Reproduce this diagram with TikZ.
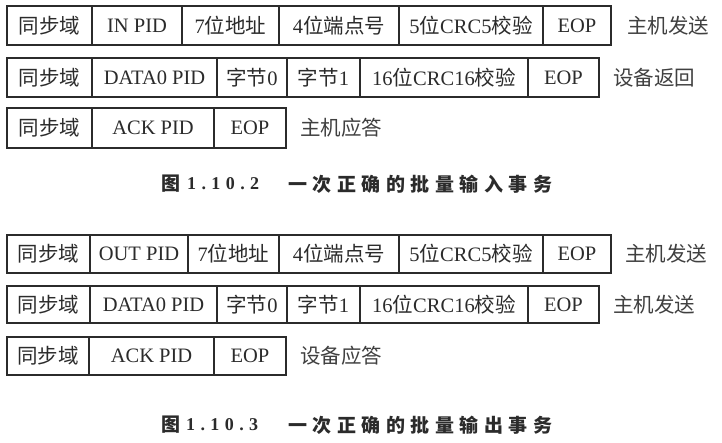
\documentclass[tikz,border=0pt]{standalone}
\usepackage{fontspec}
\setmainfont{Liberation Serif}
\newfontfamily\cjk{Noto Sans CJK SC}
\newcommand\zh[1]{{\cjk #1}}
\definecolor{ink}{HTML}{2B2B2B}
\tikzset{
  cell/.style={draw=ink, line width=1.3pt, inner sep=0pt, outer sep=0pt,
    anchor=north west, text=ink, font=\fontsize{20.5}{24}\selectfont},
  tag/.style={anchor=west, inner sep=0pt, text=ink!90,
    font=\cjk\fontsize{20.5}{24}\selectfont},
  capzh/.style={anchor=west, inner sep=0pt, text=ink,
    font=\cjk\bfseries\fontsize{19}{22}\selectfont},
  capnum/.style={anchor=west, inner sep=0pt, text=ink,
    font=\bfseries\fontsize{18}{22}\selectfont\addfontfeature{LetterSpace=30}},
  captxt/.style={anchor=west, inner sep=0pt, text=ink,
    font=\cjk\bfseries\fontsize{19}{22}\selectfont\addfontfeature{LetterSpace=29}}
}
% one field of a packet: name, left, right, top, bottom, text
\newcommand\field[6]{%
  \node[cell, minimum width={#3-#2}, minimum height={#5-#4}] (#1) at (#2,#4) {#6};}
\begin{document}
\begin{tikzpicture}[x=1pt, y=-1pt]
\useasboundingbox[fill=white] (0,0) rectangle (722,443);

% ---- bulk IN transaction ----
\field{a1}{7}{92}{6}{45}{\zh{同步域}}
\field{a2}{92}{182}{6}{45}{IN PID}
\field{a3}{182}{279}{6}{45}{7\zh{位地址}}
\field{a4}{279}{399}{6}{45}{4\zh{位端点号}}
\field{a5}{399}{543}{6}{45}{5\zh{位}CRC5\zh{校验}}
\field{a6}{543}{611}{6}{45}{EOP}
\node[tag] (ta) at ([xshift=16]a6.east) {主机发送};

\field{b1}{7}{92}{58}{97}{\zh{同步域}}
\field{b2}{92}{217}{58}{97}{DATA0 PID}
\field{b3}{217}{287}{58}{97}{\zh{字节}0}
\field{b4}{287}{360}{58}{97}{\zh{字节}1}
\field{b5}{360}{528}{58}{97}{16\zh{位}CRC16\zh{校验}}
\field{b6}{528}{599}{58}{97}{EOP}
\node[tag] (tb) at ([xshift=14]b6.east) {设备返回};

\field{c1}{7}{92}{108}{148}{\zh{同步域}}
\field{c2}{92}{214}{108}{148}{ACK PID}
\field{c3}{214}{286}{108}{148}{EOP}
\node[tag] (tc) at ([xshift=14]c3.east) {主机应答};

\node[capzh] (f1a) at (161,184) {图};
\node[capnum] (f1b) at (187,184) {1.10.2};
\node[captxt] (f1c) at (288,184) {一次正确的批量输入事务};

% ---- bulk OUT transaction ----
\field{d1}{7}{90}{235}{273}{\zh{同步域}}
\field{d2}{90}{188}{235}{273}{OUT PID}
\field{d3}{188}{279}{235}{273}{7\zh{位地址}}
\field{d4}{279}{399}{235}{273}{4\zh{位端点号}}
\field{d5}{399}{543}{235}{273}{5\zh{位}CRC5\zh{校验}}
\field{d6}{543}{611}{235}{273}{EOP}
\node[tag] (td) at ([xshift=14]d6.east) {主机发送};

\field{e1}{7}{90}{286}{323}{\zh{同步域}}
\field{e2}{90}{217}{286}{323}{DATA0 PID}
\field{e3}{217}{287}{286}{323}{\zh{字节}0}
\field{e4}{287}{360}{286}{323}{\zh{字节}1}
\field{e5}{360}{528}{286}{323}{16\zh{位}CRC16\zh{校验}}
\field{e6}{528}{599}{286}{323}{EOP}
\node[tag] (te) at ([xshift=14]e6.east) {主机发送};

\field{g1}{7}{89}{337}{375}{\zh{同步域}}
\field{g2}{89}{214}{337}{375}{ACK PID}
\field{g3}{214}{286}{337}{375}{EOP}
\node[tag] (tg) at ([xshift=14]g3.east) {设备应答};

\node[capzh] (f2a) at (161,425) {图};
\node[capnum] (f2b) at (186,425) {1.10.3};
\node[captxt] (f2c) at (288,425) {一次正确的批量输出事务};
\end{tikzpicture}
\end{document}
